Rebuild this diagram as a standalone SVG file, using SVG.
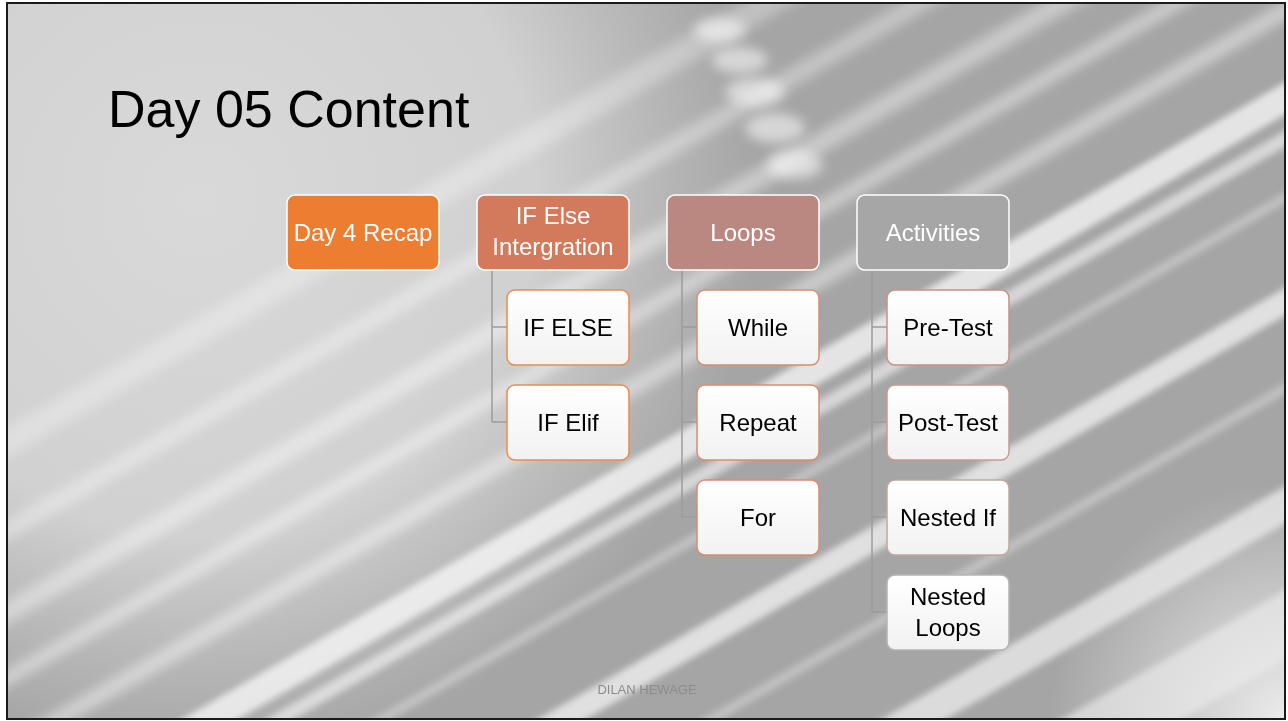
<svg xmlns="http://www.w3.org/2000/svg" width="1288" height="721" viewBox="0 0 1288 721">
  <defs>
    <style>
      .t { font-family: "Liberation Sans", Arial, sans-serif; }
      .ptxt { font-size: 24px; fill: #ffffff; text-anchor: middle; }
      .ctxt { font-size: 24px; fill: #000000; text-anchor: middle; }
      .parent { stroke: #ffffff; stroke-width: 1.5; }
      .child { fill: url(#childFill); stroke-width: 1.5; }
      .conn { fill: none; stroke: #9c9c9c; stroke-width: 1.5; }
    </style>
    <linearGradient id="childFill" x1="0" y1="0" x2="0" y2="1">
      <stop offset="0" stop-color="#ffffff"/>
      <stop offset="1" stop-color="#f2f2f2"/>
    </linearGradient>
    <radialGradient id="lightTL" cx="200" cy="200" r="560" gradientUnits="userSpaceOnUse">
      <stop offset="0" stop-color="#d9d9d9"/>
      <stop offset="0.6" stop-color="#d3d3d3" stop-opacity="0.95"/>
      <stop offset="1" stop-color="#cfcfcf" stop-opacity="0"/>
    </radialGradient>
    <radialGradient id="lightBR" cx="1288" cy="721" r="240" gradientUnits="userSpaceOnUse">
      <stop offset="0" stop-color="#ececec"/>
      <stop offset="1" stop-color="#ececec" stop-opacity="0"/>
    </radialGradient>
    <filter id="blur6" x="-20%" y="-20%" width="140%" height="140%">
      <feGaussianBlur stdDeviation="6"/>
    </filter>
    <filter id="blur3" x="-20%" y="-20%" width="140%" height="140%">
      <feGaussianBlur stdDeviation="3"/>
    </filter>
    <clipPath id="slide">
      <rect x="7" y="3" width="1278" height="716"/>
    </clipPath>
  </defs>

  <rect x="0" y="0" width="1288" height="721" fill="#ffffff"/>

  <g id="background" clip-path="url(#slide)">
    <rect x="7" y="3" width="1278" height="716" fill="#a5a5a5"/>
    <rect x="7" y="3" width="1278" height="716" fill="url(#lightTL)"/>
    <g transform="translate(644 360) rotate(-30)">
      <g filter="url(#blur6)" fill="#ffffff">
        <rect x="-1200" y="-260" width="2400" height="26" opacity="0.3"/>
        <rect x="-1200" y="-180" width="2400" height="18" opacity="0.35"/>
        <rect x="-1200" y="-110" width="2400" height="20" opacity="0.4"/>
        <rect x="-1200" y="-50" width="2400" height="14" opacity="0.45"/>
        <rect x="-1200" y="10" width="2400" height="16" opacity="0.45"/>
      </g>
      <g filter="url(#blur3)" fill="#ffffff">
        <rect x="-1200" y="80" width="2400" height="28" opacity="0.7"/>
        <rect x="-1200" y="122" width="2400" height="14" opacity="0.55"/>
        <rect x="-1200" y="175" width="2400" height="10" opacity="0.3"/>
        <rect x="-1200" y="258" width="2400" height="24" opacity="0.65"/>
        <rect x="-1200" y="340" width="2400" height="10" opacity="0.3"/>
        <rect x="-1200" y="430" width="2400" height="32" opacity="0.6"/>
        <rect x="-1200" y="520" width="2400" height="60" opacity="0.5"/>
      </g>
    </g>
    <rect x="7" y="3" width="1278" height="716" fill="url(#lightBR)"/>
    <g filter="url(#blur6)" fill="#ffffff" opacity="0.55">
      <ellipse cx="720" cy="30" rx="26" ry="12"/>
      <ellipse cx="740" cy="60" rx="28" ry="13"/>
      <ellipse cx="755" cy="92" rx="30" ry="14"/>
      <ellipse cx="775" cy="128" rx="30" ry="15"/>
      <ellipse cx="795" cy="165" rx="28" ry="14"/>
    </g>
  </g>

  <rect x="7" y="3" width="1278" height="716" fill="none" stroke="#1a1a1a" stroke-width="2"/>

  <text class="t" x="108" y="127" font-size="52" fill="#000000">Day 05 Content</text>

  <g id="connectors">
    <path class="conn" d="M492 270 V422 M492 327 H507 M492 422 H507"/>
    <path class="conn" d="M682 270 V517 M682 327 H697 M682 422 H697 M682 517 H697"/>
    <path class="conn" d="M872 270 V612 M872 327 H887 M872 422 H887 M872 517 H887 M872 612 H887"/>
  </g>

  <g id="n-recap">
    <rect class="parent" x="287" y="195" width="152" height="75" rx="8" fill="#ED7D31"/>
    <text class="t ptxt" x="363" y="241">Day 4 Recap</text>
  </g>
  <g id="n-ifelse-int">
    <rect class="parent" x="477" y="195" width="152" height="75" rx="8" fill="#D27A5B"/>
    <text class="t ptxt" x="553" y="224">IF Else</text>
    <text class="t ptxt" x="553" y="255">Intergration</text>
  </g>
  <g id="n-loops">
    <rect class="parent" x="667" y="195" width="152" height="75" rx="8" fill="#BA8880"/>
    <text class="t ptxt" x="743" y="241">Loops</text>
  </g>
  <g id="n-activities">
    <rect class="parent" x="857" y="195" width="152" height="75" rx="8" fill="#A6A6A6"/>
    <text class="t ptxt" x="933" y="241">Activities</text>
  </g>

  <g id="n-ifelse">
    <rect class="child" x="507" y="290" width="122" height="75" rx="8" stroke="#EE8A4A"/>
    <text class="t ctxt" x="568" y="336">IF ELSE</text>
  </g>
  <g id="n-ifelif">
    <rect class="child" x="507" y="385" width="122" height="75" rx="8" stroke="#EE8A4A"/>
    <text class="t ctxt" x="568" y="431">IF Elif</text>
  </g>

  <g id="n-while">
    <rect class="child" x="697" y="290" width="122" height="75" rx="8" stroke="#D98C6F"/>
    <text class="t ctxt" x="758" y="336">While</text>
  </g>
  <g id="n-repeat">
    <rect class="child" x="697" y="385" width="122" height="75" rx="8" stroke="#D98C6F"/>
    <text class="t ctxt" x="758" y="431">Repeat</text>
  </g>
  <g id="n-for">
    <rect class="child" x="697" y="480" width="122" height="75" rx="8" stroke="#D98C6F"/>
    <text class="t ctxt" x="758" y="526">For</text>
  </g>

  <g id="n-pretest">
    <rect class="child" x="887" y="290" width="122" height="75" rx="8" stroke="#C89088"/>
    <text class="t ctxt" x="948" y="336">Pre-Test</text>
  </g>
  <g id="n-posttest">
    <rect class="child" x="887" y="385" width="122" height="75" rx="8" stroke="#C49A94"/>
    <text class="t ctxt" x="948" y="431">Post-Test</text>
  </g>
  <g id="n-nestedif">
    <rect class="child" x="887" y="480" width="122" height="75" rx="8" stroke="#BFA6A2"/>
    <text class="t ctxt" x="948" y="526">Nested If</text>
  </g>
  <g id="n-nestedloops">
    <rect class="child" x="887" y="575" width="122" height="75" rx="8" stroke="#B4B4B4"/>
    <text class="t ctxt" x="948" y="605">Nested</text>
    <text class="t ctxt" x="948" y="636">Loops</text>
  </g>

  <text class="t" x="647" y="694" font-size="13" fill="#8c8c8c" text-anchor="middle">DILAN HEWAGE</text>
</svg>
